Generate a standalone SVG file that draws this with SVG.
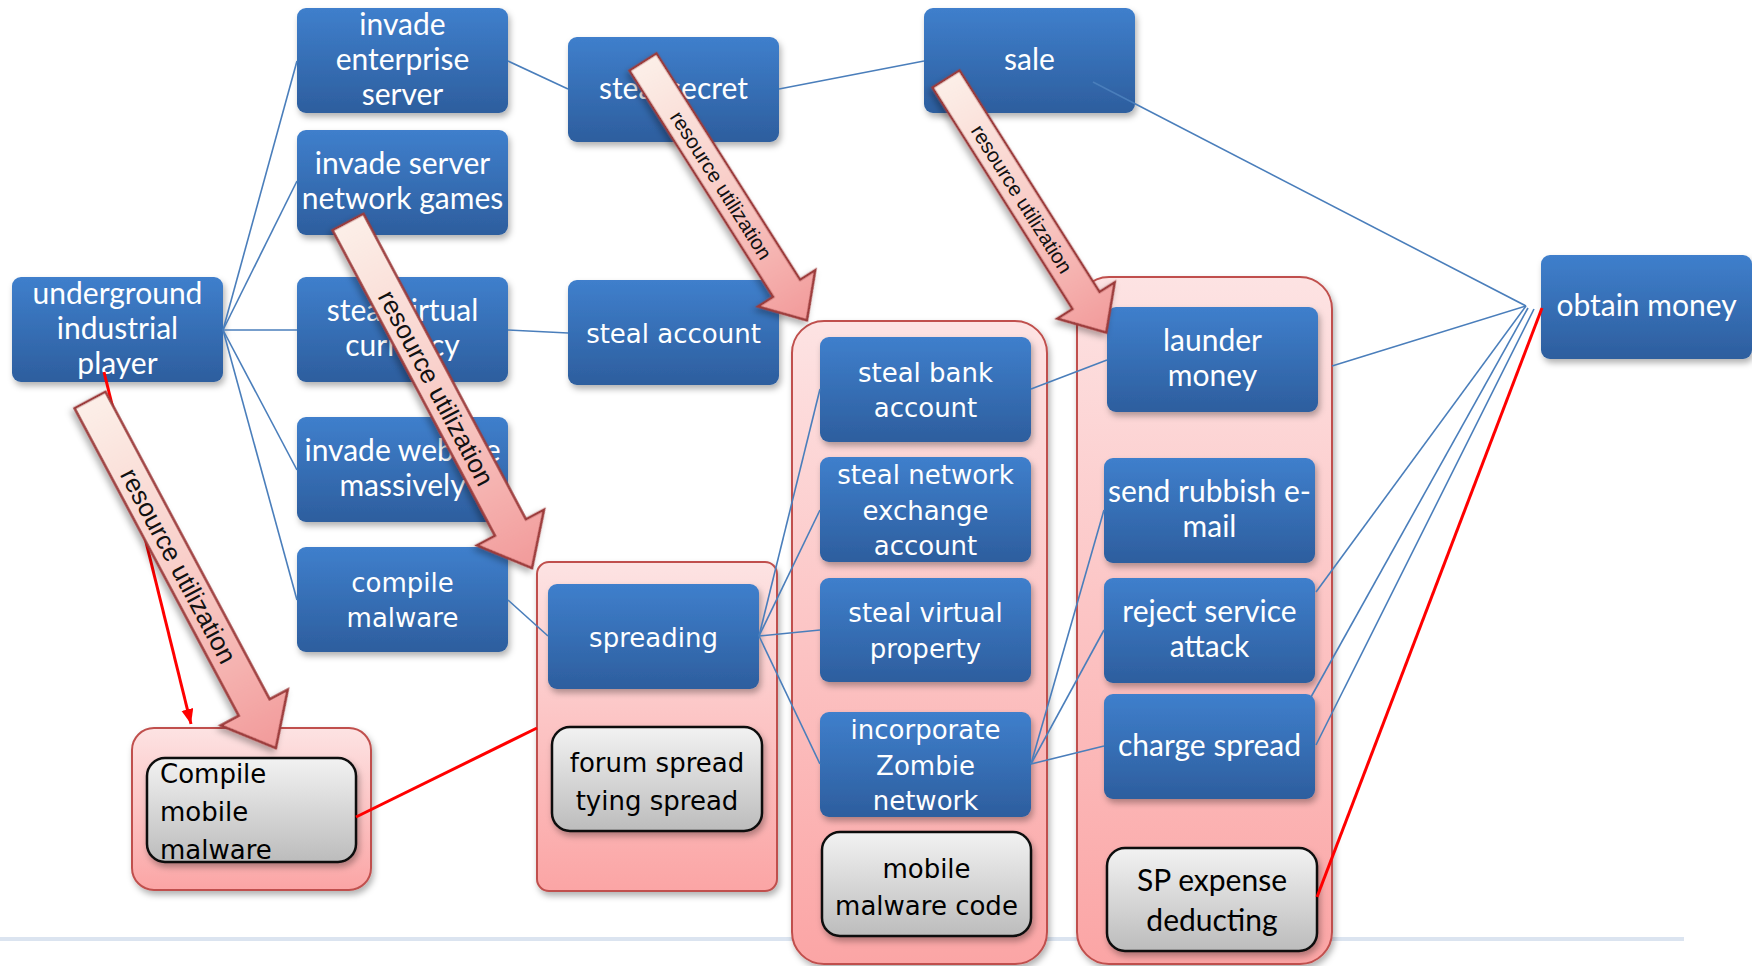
<svg xmlns="http://www.w3.org/2000/svg" width="1752" height="966" viewBox="0 0 1752 966">
  <defs>
    <linearGradient id="gBlue" x1="0" y1="0" x2="0" y2="1">
      <stop offset="0" stop-color="#3f7fcc"/>
      <stop offset="1" stop-color="#2d5e9e"/>
    </linearGradient>
    <linearGradient id="gGray" x1="0" y1="0" x2="0" y2="1">
      <stop offset="0" stop-color="#f2f2f2"/>
      <stop offset="1" stop-color="#bcbcbc"/>
    </linearGradient>
    <linearGradient id="gPink" x1="0" y1="0" x2="0" y2="1">
      <stop offset="0" stop-color="#fde3e3"/>
      <stop offset="1" stop-color="#fba5a5"/>
    </linearGradient>
    <linearGradient id="gArrow" x1="0" y1="0" x2="1" y2="0">
      <stop offset="0" stop-color="#fcefe8"/>
      <stop offset="0.55" stop-color="#f8c9c4"/>
      <stop offset="1" stop-color="#f29a9a"/>
    </linearGradient>
    <filter id="shadow" x="-10%" y="-10%" width="130%" height="130%">
      <feDropShadow dx="2" dy="4" stdDeviation="3" flood-color="#000" flood-opacity="0.3"/>
    </filter>
    <marker id="redHead" markerUnits="userSpaceOnUse" markerWidth="16" markerHeight="14" refX="15" refY="6" orient="auto">
      <path d="M0,0 L15,6 L0,12 Z" fill="#ff0000"/>
    </marker>
    <style>
      .blue { fill: url(#gBlue); filter: url(#shadow); }
      .gray { fill: url(#gGray); stroke: #111; stroke-width: 2.5; filter: url(#shadow); }
      .box { fill: url(#gPink); stroke: #c0504d; stroke-width: 2; filter: url(#shadow); }
      .cal { font-family: Lato, "Liberation Sans", sans-serif; font-size: 30px; fill: #fff; text-anchor: middle; }
      .dv { font-family: "DejaVu Sans", Verdana, sans-serif; font-size: 26px; fill: #fff; text-anchor: middle; }
      .dvk { font-family: "DejaVu Sans", Verdana, sans-serif; font-size: 26px; fill: #000; text-anchor: middle; }
      .left { text-anchor: start; }
      .calk { font-family: Lato, "Liberation Sans", sans-serif; font-size: 30px; fill: #000; text-anchor: middle; }
      .link { stroke: #4a7ebb; stroke-width: 1.6; fill: none; }
      .red { stroke: #ff0000; stroke-width: 3; fill: none; }
      .arrow { fill: url(#gArrow); stroke: #9c3b3b; stroke-width: 2.5; stroke-linejoin: miter; filter: url(#shadow); }
      .atext { font-family: "Liberation Sans", Arial, sans-serif; fill: #111; text-anchor: middle; }
    </style>
  </defs>

  <rect width="1752" height="966" fill="#fff"/>
  <!-- footer rule -->
  <rect x="0" y="937" width="1684" height="4" fill="#dbe4f0"/>

  <!-- grouping containers -->
  <g id="containers">
    <rect id="grp-compile" class="box" x="132" y="728" width="239" height="162" rx="22"/>
    <rect id="grp-spread" class="box" x="537" y="562" width="240" height="329" rx="12"/>
    <rect id="grp-steal" class="box" x="792" y="321" width="255" height="643" rx="32"/>
    <rect id="grp-profit" class="box" x="1077" y="277" width="255" height="687" rx="32"/>
  </g>

  <!-- nodes -->
  <g id="n-player">
    <rect class="blue" x="12" y="277" width="211" height="105" rx="9"/>
    <text class="cal" x="117.5" y="303.5">underground</text>
    <text class="cal" x="117.5" y="338.5">industrial</text>
    <text class="cal" x="117.5" y="373.5">player</text>
  </g>
  <g id="n-invade-enterprise">
    <rect class="blue" x="297" y="8" width="211" height="105" rx="9"/>
    <text class="cal" x="402.5" y="34.5">invade</text>
    <text class="cal" x="402.5" y="69.5">enterprise</text>
    <text class="cal" x="402.5" y="104.5">server</text>
  </g>
  <g id="n-invade-games">
    <rect class="blue" x="297" y="130" width="211" height="105" rx="9"/>
    <text class="cal" x="402.5" y="174">invade server</text>
    <text class="cal" x="402.5" y="209">network games</text>
  </g>
  <g id="n-steal-currency">
    <rect class="blue" x="297" y="277" width="211" height="105" rx="9"/>
    <text class="cal" x="402.5" y="321">steal virtual</text>
    <text class="cal" x="402.5" y="356">currency</text>
  </g>
  <g id="n-invade-website">
    <rect class="blue" x="297" y="417" width="211" height="105" rx="9"/>
    <text class="cal" x="402.5" y="461">invade website</text>
    <text class="cal" x="402.5" y="496">massively</text>
  </g>
  <g id="n-compile-malware">
    <rect class="blue" x="297" y="547" width="211" height="105" rx="9"/>
    <text class="dv" x="402.5" y="591.5">compile</text>
    <text class="dv" x="402.5" y="627">malware</text>
  </g>
  <g id="n-steal-secret">
    <rect class="blue" x="568" y="37" width="211" height="105" rx="9"/>
    <text class="cal" x="673.5" y="98.5">steal secret</text>
  </g>
  <g id="n-steal-account">
    <rect class="blue" x="568" y="280" width="211" height="105" rx="9"/>
    <text class="dv" x="673.5" y="342.5">steal account</text>
  </g>
  <g id="n-sale">
    <rect class="blue" x="924" y="8" width="211" height="105" rx="9"/>
    <text class="cal" x="1029.5" y="69.5">sale</text>
  </g>
  <g id="n-obtain-money">
    <rect class="blue" x="1541" y="255" width="211" height="104" rx="9"/>
    <text class="cal" x="1646.5" y="316">obtain money</text>
  </g>
  <g id="n-spreading">
    <rect class="blue" x="548" y="584" width="211" height="105" rx="9"/>
    <text class="dv" x="653.5" y="646.5">spreading</text>
  </g>
  <g id="n-bank">
    <rect class="blue" x="820" y="337" width="211" height="105" rx="9"/>
    <text class="dv" x="925.5" y="381.5">steal bank</text>
    <text class="dv" x="925.5" y="417">account</text>
  </g>
  <g id="n-exchange">
    <rect class="blue" x="820" y="457" width="211" height="105" rx="9"/>
    <text class="dv" x="925.5" y="484">steal network</text>
    <text class="dv" x="925.5" y="519.5">exchange</text>
    <text class="dv" x="925.5" y="555">account</text>
  </g>
  <g id="n-property">
    <rect class="blue" x="820" y="578" width="211" height="104" rx="9"/>
    <text class="dv" x="925.5" y="622">steal virtual</text>
    <text class="dv" x="925.5" y="657.5">property</text>
  </g>
  <g id="n-zombie">
    <rect class="blue" x="820" y="712" width="211" height="105" rx="9"/>
    <text class="dv" x="925.5" y="739">incorporate</text>
    <text class="dv" x="925.5" y="774.5">Zombie</text>
    <text class="dv" x="925.5" y="810">network</text>
  </g>
  <g id="n-launder">
    <rect class="blue" x="1107" y="307" width="211" height="105" rx="9"/>
    <text class="cal" x="1212.5" y="351">launder</text>
    <text class="cal" x="1212.5" y="386">money</text>
  </g>
  <g id="n-spam">
    <rect class="blue" x="1104" y="458" width="211" height="105" rx="9"/>
    <text class="cal" x="1209.5" y="502">send rubbish e-</text>
    <text class="cal" x="1209.5" y="537">mail</text>
  </g>
  <g id="n-dos">
    <rect class="blue" x="1104" y="578" width="211" height="105" rx="9"/>
    <text class="cal" x="1209.5" y="622">reject service</text>
    <text class="cal" x="1209.5" y="657">attack</text>
  </g>
  <g id="n-charge">
    <rect class="blue" x="1104" y="694" width="211" height="105" rx="9"/>
    <text class="cal" x="1209.5" y="755.5">charge spread</text>
  </g>
  <g id="n-mobile-compile">
    <rect class="gray" x="147" y="758" width="209" height="104" rx="18"/>
    <text class="dvk left" x="160" y="783">Compile</text>
    <text class="dvk left" x="160" y="821">mobile</text>
    <text class="dvk left" x="160" y="859">malware</text>
  </g>
  <g id="n-forum">
    <rect class="gray" x="552" y="727" width="210" height="104" rx="18"/>
    <text class="dvk" x="657" y="771.5">forum spread</text>
    <text class="dvk" x="657" y="810">tying spread</text>
  </g>
  <g id="n-mobile-code">
    <rect class="gray" x="822" y="832" width="209" height="104" rx="18"/>
    <text class="dvk" x="926.5" y="878">mobile</text>
    <text class="dvk" x="926.5" y="915">malware code</text>
  </g>
  <g id="n-sp">
    <rect class="gray" x="1107" y="848" width="210" height="103" rx="18"/>
    <text class="calk" x="1212" y="891">SP expense</text>
    <text class="calk" x="1212" y="931">deducting</text>
  </g>

  <!-- connectors -->
  <g id="connectors">
    <line class="link" x1="223" y1="330" x2="297" y2="61"/>
    <line class="link" x1="223" y1="330" x2="297" y2="181"/>
    <line class="link" x1="223" y1="330" x2="297" y2="330"/>
    <line class="link" x1="223" y1="330" x2="297" y2="470"/>
    <line class="link" x1="223" y1="330" x2="297" y2="600"/>
    <line class="link" x1="508" y1="61" x2="568" y2="89"/>
    <line class="link" x1="508" y1="330" x2="568" y2="333"/>
    <line class="link" x1="779" y1="89" x2="924" y2="61"/>
    <line class="link" x1="1093" y1="82" x2="1526" y2="306"/>
    <line class="link" x1="1332" y1="366" x2="1526" y2="306"/>
    <line class="link" x1="1316" y1="592" x2="1526" y2="306"/>
    <line class="link" x1="1311" y1="697" x2="1528" y2="308"/>
    <line class="link" x1="1316" y1="745" x2="1534" y2="309"/>
    <line class="link" x1="1031" y1="389" x2="1107" y2="360"/>
    <line class="link" x1="759" y1="636" x2="820" y2="389"/>
    <line class="link" x1="759" y1="636" x2="820" y2="510"/>
    <line class="link" x1="759" y1="636" x2="820" y2="630"/>
    <line class="link" x1="759" y1="636" x2="820" y2="764"/>
    <line class="link" x1="1031" y1="764" x2="1104" y2="510"/>
    <line class="link" x1="1031" y1="764" x2="1104" y2="630"/>
    <line class="link" x1="1031" y1="764" x2="1104" y2="746"/>
    <line class="link" x1="508" y1="600" x2="548" y2="636"/>
    <line class="red" x1="356" y1="817" x2="537" y2="728"/>
    <line class="red" x1="1317" y1="897" x2="1542" y2="308"/>
    <line class="red" stroke-width="2.5" x1="104" y1="372" x2="191" y2="724" marker-end="url(#redHead)"/>
  </g>

  <!-- resource utilization block arrows -->
  <g id="arrow-player" transform="translate(90,400) rotate(61.9)">
    <path class="arrow" d="M0,-17.5 H348.6 V-38 L394.6,0 L348.6,38 V17.5 H0 Z"/>
    <text class="atext" x="188" y="0" dy="0.35em" font-size="26">resource utilization</text>
  </g>
  <g id="arrow-games" transform="translate(348,222) rotate(62)">
    <path class="arrow" d="M0,-17.5 H346 V-38 L392,0 L346,38 V17.5 H0 Z"/>
    <text class="atext" x="188" y="0" dy="0.35em" font-size="26">resource utilization</text>
  </g>
  <g id="arrow-secret" transform="translate(643,62) rotate(57.6)">
    <path class="arrow" d="M0,-16 H268 V-34 L306,0 L268,34 V16 H0 Z"/>
    <text class="atext" x="146" y="0" dy="0.35em" font-size="20.5">resource utilization</text>
  </g>
  <g id="arrow-sale" transform="translate(946,79) rotate(57.7)">
    <path class="arrow" d="M0,-16 H262 V-34 L300,0 L262,34 V16 H0 Z"/>
    <text class="atext" x="142" y="0" dy="0.35em" font-size="20.5">resource utilization</text>
  </g>
</svg>
